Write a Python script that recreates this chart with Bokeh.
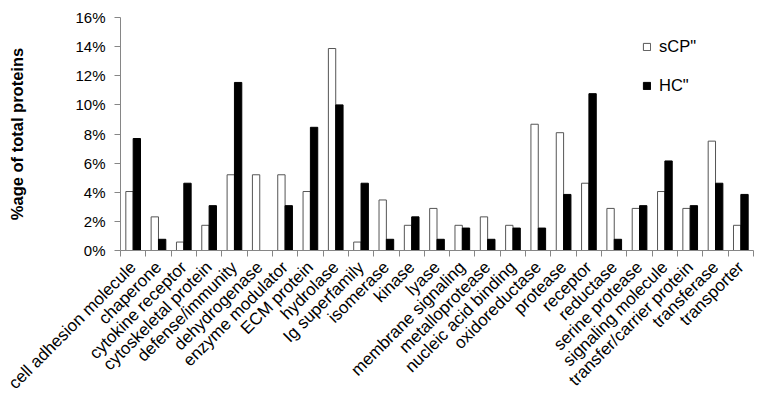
from bokeh.plotting import figure
from bokeh.models import (ColumnDataSource, Range1d, FixedTicker, CustomJSTickFormatter,
                          PrintfTickFormatter, Legend, LegendItem)
from bokeh.transform import dodge
from bokeh.embed import file_html
from bokeh.resources import INLINE
import math

categories = ["cell adhesion molecule", "chaperone", "cytokine receptor", "cytoskeletal protein",
              "defense/immunity", "dehydrogenase", "enzyme modulator", "ECM protein", "hydrolase",
              "Ig superfamily", "isomerase", "kinase", "lyase", "membrane signaling",
              "metalloprotease", "nucleic acid binding", "oxidoreductase", "protease", "receptor",
              "reductase", "serine protease", "signaling molecule", "transfer/carrier protein",
              "transferase", "transporter"]
scp = [4.05, 2.31, 0.58, 1.73, 5.2, 5.2, 5.2, 4.05, 13.87, 0.58, 3.47, 1.73, 2.89, 1.73,
       2.31, 1.73, 8.67, 8.09, 4.62, 2.89, 2.89, 4.05, 2.89, 7.51, 1.73]
hc = [7.69, 0.77, 4.62, 3.08, 11.54, 0.0, 3.08, 8.46, 10.0, 4.62, 0.77, 2.31, 0.77, 1.54,
      0.77, 1.54, 1.54, 3.85, 10.77, 0.77, 3.08, 6.15, 3.08, 4.62, 3.85]
y_ticks = [0, 2, 4, 6, 8, 10, 12, 14, 16]
series_names = ['sCP"', 'HC"']

n = len(categories)
pos = [i + 0.5 for i in range(n)]
src = ColumnDataSource(dict(pos=pos, cat=categories, scp=scp, hc=hc))

FONT = "Liberation Sans"
AXIS_COLOR = "#868686"

p = figure(width=756, height=404, output_backend="svg", toolbar_location=None,
           x_range=Range1d(0, n), y_range=Range1d(0, 16),
           min_border_left=120, min_border_right=3, min_border_top=17, min_border_bottom=154)
p.outline_line_color = None
p.grid.visible = False
p.background_fill_color = "white"
p.border_fill_color = "white"

r1 = p.vbar(x=dodge("pos", -0.145), top="scp", width=0.29, source=src,
            fill_color="white", line_color="#555555", line_width=1)
r2 = p.vbar(x=dodge("pos", 0.145), top="hc", width=0.29, source=src,
            fill_color="black", line_color="black", line_width=1)

# x axis
xa = p.xaxis[0]
xa.ticker = FixedTicker(ticks=pos, minor_ticks=list(range(n + 1)))
xa.formatter = CustomJSTickFormatter(args=dict(labels=categories),
                                     code="return labels[Math.floor(tick)];")
xa.major_label_orientation = math.pi / 4
xa.major_label_text_font = FONT
xa.major_label_text_font_size = "17px"
xa.major_label_text_color = "black"
xa.major_tick_line_color = None
xa.minor_tick_out = 6
xa.minor_tick_in = 0
xa.minor_tick_line_color = AXIS_COLOR
xa.axis_line_color = AXIS_COLOR
xa.major_label_standoff = 8

# y axis
ya = p.yaxis[0]
ya.ticker = FixedTicker(ticks=y_ticks)
ya.formatter = PrintfTickFormatter(format="%d%%")
ya.major_label_text_font = FONT
ya.major_label_text_font_size = "15px"
ya.major_label_text_color = "black"
ya.major_tick_out = 6
ya.major_tick_in = 0
ya.major_tick_line_color = AXIS_COLOR
ya.minor_tick_line_color = None
ya.axis_line_color = AXIS_COLOR
ya.major_label_standoff = 9
ya.axis_label = "%age of total proteins"
ya.axis_label_text_font = FONT
ya.axis_label_text_font_size = "16.5px"
ya.axis_label_text_font_style = "bold"
ya.axis_label_text_color = "black"
ya.axis_label_standoff = 46

legend = Legend(items=[LegendItem(label=series_names[0], renderers=[r1]),
                       LegendItem(label=series_names[1], renderers=[r2])],
                location=(522, 155), orientation="vertical",
                glyph_width=9, glyph_height=9, label_standoff=8, spacing=20,
                padding=0, margin=0, border_line_color=None, background_fill_alpha=0,
                label_text_font=FONT, label_text_font_size="16.5px", label_text_color="black")
p.add_layout(legend, "center")

open("out.html", "w").write(file_html(p, INLINE))
